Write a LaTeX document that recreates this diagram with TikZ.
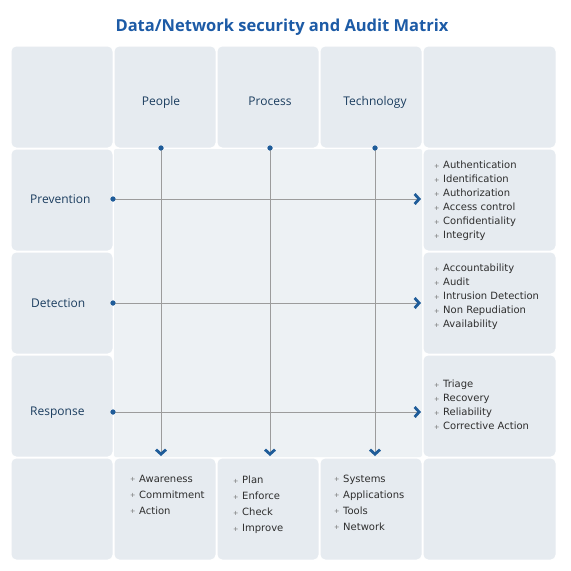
\documentclass[tikz,border=0pt]{standalone}
\usepackage{fontspec}
\setmainfont{Open Sans}
\newfontfamily\listfont{DejaVu Sans}
\usepackage{xcolor}
\usepackage{tikz}
\usetikzlibrary{arrows.meta,positioning}
\definecolor{cellfill}{HTML}{E6EBF0}
\definecolor{midfill}{HTML}{EDF1F4}
\definecolor{titleblue}{HTML}{1D5BA6}
\definecolor{labelnavy}{HTML}{1B3D5F}
\definecolor{linegray}{HTML}{9C9C9C}
\definecolor{arrowblue}{HTML}{1F5C99}
\definecolor{bulgray}{HTML}{707070}
\newcommand{\bul}{\makebox[9pt][l]{\raisebox{0.7pt}{\color{bulgray}\fontsize{6.5}{6.5}\selectfont+}}}

\begin{document}
\begin{tikzpicture}[
      x=1pt, y=-1pt,
      cell/.style={fill=cellfill, rounded corners=5pt, inner sep=0pt,
                   minimum width=101pt, minimum height=101pt},
      widecell/.style={cell, minimum width=132pt},
      head/.style={font=\fontsize{12}{14}\selectfont, text=labelnavy, inner sep=0pt, anchor=base},
      items/.style={font=\listfont\fontsize{10}{14}\selectfont, align=left,
                    anchor=north west, inner sep=0pt, text=black!82},
      lowitems/.style={items, font=\listfont\fontsize{10}{16}\selectfont},
      dot/.style={circle, fill=arrowblue, inner sep=0pt, minimum size=5pt},
      flow/.style={draw=linegray, line width=0.8pt,
                   -{Straight Barb[length=4.5pt, width=10pt, line width=2.8pt, color=arrowblue]}},
    ]
    \useasboundingbox[fill=white] (0,0) rectangle (571,571);

    % --- title ---------------------------------------------------------------------
    \node[font=\fontsize{16.5}{20}\selectfont\bfseries, text=titleblue] (title) at (282,27)
      {Data/Network security and Audit Matrix};

    % --- outer cells ---------------------------------------------------------------
    \node[cell] (corner) at (62,97) {};
    \node[cell] (peoplecell) at (165,97) {};
    \node[cell] (processcell) at (268,97) {};
    \node[cell] (techcell) at (371,97) {};
    \node[widecell] (topright) at (489.5,97) {};
    \node[cell] (prevcell) at (62,200) {};
    \node[cell] (detcell) at (62,303) {};
    \node[cell] (respcell) at (62,406) {};
    \node[cell] (bottomleft) at (62,509) {};
    \node[widecell] (prevlist) at (489.5,200) {};
    \node[widecell] (detlist) at (489.5,303) {};
    \node[widecell] (resplist) at (489.5,406) {};
    \node[cell] (peoplelist) at (165,509) {};
    \node[cell] (processlist) at (268,509) {};
    \node[cell] (techlist) at (371,509) {};
    \node[widecell] (bottomright) at (489.5,509) {};

    % --- centre block --------------------------------------------------------------
    \node[fill=midfill, rounded corners=2pt, minimum width=308pt, minimum height=308pt,
          inner sep=0pt] (matrix) at (268,303) {};

    % --- headings ------------------------------------------------------------------
    \node[head] (people) at (161,105.5) {People};
    \node[head] (process) at (270,105.5) {Process};
    \node[head] (technology) at (375,105.5) {Technology};
    \node[head, anchor=base west] (prevention) at (30,203.5) {Prevention};
    \node[head, anchor=base west] (detection) at (31,307.5) {Detection};
    \node[head, anchor=base west] (response) at (30,415.5) {Response};

    % --- connectors ----------------------------------------------------------------
    \node[dot] (pdot) at (161,148) {};
    \node[dot] (prdot) at (270,148) {};
    \node[dot] (tdot) at (375,148) {};
    \node[dot] (vdot) at (113,199) {};
    \node[dot] (ddot) at (113,303) {};
    \node[dot] (rdot) at (113,412) {};
    \coordinate (pend) at (161,456);
    \coordinate (prend) at (270,456);
    \coordinate (tend) at (375,456);
    \coordinate (vend) at (421,199);
    \coordinate (dend) at (421,303);
    \coordinate (rend) at (421,412);

    \draw[flow] (pdot.center) -- (pend);
    \draw[flow] (prdot.center) -- (prend);
    \draw[flow] (tdot.center) -- (tend);
    \draw[flow] (vdot.center) -- (vend);
    \draw[flow] (ddot.center) -- (dend);
    \draw[flow] (rdot.center) -- (rend);
    \node[dot] at (pdot) {};
    \node[dot] at (prdot) {};
    \node[dot] at (tdot) {};
    \node[dot] at (vdot) {};
    \node[dot] at (ddot) {};
    \node[dot] at (rdot) {};

    % --- lists ---------------------------------------------------------------------
    \node[items] (prevtext) at (434,161) {\bul Authentication\\ \bul Identification\\
      \bul Authorization\\ \bul Access control\\ \bul Confidentiality\\ \bul Integrity};
    \node[items] (dettext) at (434,264) {\bul Accountability\\ \bul Audit\\
      \bul Intrusion Detection\\ \bul Non Repudiation\\ \bul Availability};
    \node[items] (resptext) at (434,380) {\bul Triage\\ \bul Recovery\\
      \bul Reliability\\ \bul Corrective Action};
    \node[lowitems] (peopletext) at (130,475) {\bul Awareness\\ \bul Commitment\\ \bul Action};
    \node[lowitems] (processtext) at (233,476) {\bul Plan\\ \bul Enforce\\ \bul Check\\ \bul Improve};
    \node[lowitems] (techtext) at (334,475) {\bul Systems\\ \bul Applications\\ \bul Tools\\ \bul Network};
  \end{tikzpicture}
\end{document}
